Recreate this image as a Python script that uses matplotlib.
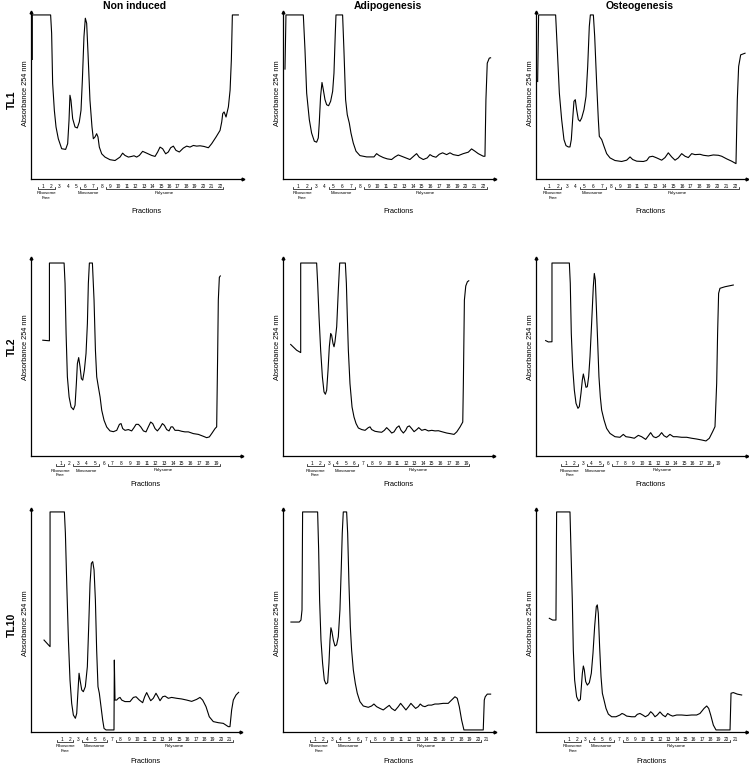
import matplotlib
matplotlib.use("Agg")
import matplotlib.pyplot as plt

plt.rcParams['font.family'] = ['Liberation Sans', 'DejaVu Sans']

conditions = ["Non induced", "Adipogenesis", "Osteogenesis"]
cell_lines = ["TL1", "TL2", "TL10"]

# traces: x in fraction units, y = A254 relative to detector saturation (1.0)
tl1_non_x = [-0.23, -0.23, 1.94, 2.06, 2.18, 2.38, 2.58, 2.85, 3.25, 3.72,
             3.96, 4.12, 4.23, 4.35, 4.55, 4.83, 5.10, 5.34, 5.54, 5.70,
             5.89, 6.05, 6.21, 6.37, 6.60, 6.84, 7.00, 7.20, 7.39, 7.55,
             7.71, 7.99, 8.38, 8.97, 9.57, 10.16, 10.47, 10.75, 11.15, 11.54,
             11.82, 12.13, 12.45, 12.84, 13.32, 13.91, 14.31, 14.62, 14.90, 15.21,
             15.57, 15.88, 16.16, 16.48, 16.79, 17.19, 17.66, 18.06, 18.45, 18.85,
             19.24, 19.64, 20.11, 20.63, 21.02, 21.54, 22.01, 22.21, 22.33, 22.49,
             22.72, 23.00, 23.20, 23.35, 23.47, 24.18]
tl1_non_y = [0.728, 1.0, 1.0, 0.888, 0.581, 0.417, 0.315, 0.243, 0.182, 0.178,
             0.213, 0.356, 0.509, 0.479, 0.366, 0.315, 0.309, 0.346, 0.417, 0.601,
             0.867, 0.980, 0.949, 0.765, 0.479, 0.315, 0.243, 0.254, 0.274, 0.254,
             0.192, 0.151, 0.131, 0.115, 0.110, 0.131, 0.155, 0.141, 0.131, 0.135,
             0.139, 0.131, 0.141, 0.166, 0.155, 0.141, 0.135, 0.162, 0.192, 0.182,
             0.151, 0.162, 0.188, 0.198, 0.172, 0.162, 0.186, 0.198, 0.192, 0.202,
             0.198, 0.200, 0.196, 0.188, 0.213, 0.254, 0.294, 0.346, 0.397, 0.407,
             0.376, 0.438, 0.540, 0.724, 1.0, 1.0]

tl1_adi_x = [-0.51, -0.40, 1.57, 1.76, 1.95, 2.25, 2.51, 2.82, 3.08, 3.27,
             3.38, 3.53, 3.69, 3.84, 4.03, 4.22, 4.44, 4.67, 4.90, 5.05,
             5.20, 5.28, 6.03, 6.18, 6.37, 6.56, 6.79, 6.98, 7.24, 7.55,
             8.00, 8.76, 9.59, 9.89, 10.19, 10.65, 11.10, 11.59, 11.97, 12.35,
             12.73, 13.11, 13.67, 14.17, 14.43, 14.73, 15.19, 15.64, 15.95, 16.25,
             16.63, 17.00, 17.38, 17.84, 18.22, 18.59, 19.16, 19.73, 20.30, 20.67,
             21.05, 21.43, 22.00, 22.19, 22.30, 22.45, 22.68, 22.83]
tl1_adi_y = [0.669, 1.0, 1.0, 0.787, 0.522, 0.360, 0.278, 0.228, 0.222, 0.248,
             0.339, 0.502, 0.587, 0.543, 0.482, 0.451, 0.445, 0.472, 0.533, 0.644,
             0.888, 1.0, 1.0, 0.787, 0.482, 0.390, 0.339, 0.278, 0.217, 0.167,
             0.140, 0.132, 0.132, 0.152, 0.140, 0.128, 0.120, 0.116, 0.132, 0.144,
             0.136, 0.128, 0.116, 0.140, 0.152, 0.130, 0.116, 0.126, 0.146, 0.136,
             0.130, 0.148, 0.157, 0.146, 0.157, 0.146, 0.140, 0.152, 0.161, 0.181,
             0.167, 0.152, 0.136, 0.136, 0.482, 0.705, 0.736, 0.738]

tl1_ost_x = [-0.28, -0.17, 1.75, 1.94, 2.17, 2.43, 2.69, 2.92, 3.18, 3.37,
             3.52, 3.67, 3.82, 3.97, 4.12, 4.31, 4.50, 4.69, 4.95, 5.18,
             5.37, 5.55, 5.67, 6.01, 6.16, 6.38, 6.57, 6.68, 6.95, 7.21,
             7.51, 7.89, 8.45, 9.20, 9.77, 10.15, 10.45, 10.90, 11.65, 12.03,
             12.33, 12.70, 13.16, 13.72, 14.10, 14.47, 14.85, 15.23, 15.60, 15.98,
             16.36, 16.73, 17.11, 17.48, 18.05, 18.43, 18.99, 19.55, 20.12, 20.50,
             21.06, 21.62, 22.11, 22.26, 22.41, 22.64, 23.13]
tl1_ost_y = [0.593, 1.0, 1.0, 0.787, 0.522, 0.360, 0.238, 0.201, 0.193, 0.193,
             0.238, 0.360, 0.472, 0.482, 0.421, 0.360, 0.350, 0.370, 0.421, 0.502,
             0.685, 0.929, 1.0, 1.0, 0.868, 0.583, 0.360, 0.258, 0.238, 0.197,
             0.152, 0.126, 0.110, 0.104, 0.112, 0.132, 0.116, 0.106, 0.104, 0.110,
             0.132, 0.136, 0.126, 0.112, 0.128, 0.157, 0.132, 0.112, 0.126, 0.152,
             0.136, 0.128, 0.152, 0.146, 0.148, 0.142, 0.138, 0.144, 0.142, 0.136,
             0.120, 0.106, 0.091, 0.482, 0.685, 0.756, 0.766]

tl2_non_x = [-1.08, -0.31, -0.31, 1.39, 1.50, 1.62, 1.77, 1.97, 2.20, 2.47,
             2.66, 2.81, 2.93, 3.08, 3.24, 3.39, 3.55, 3.74, 3.93, 4.09,
             4.20, 4.32, 4.67, 4.86, 5.02, 5.17, 5.36, 5.56, 5.75, 6.02,
             6.33, 6.71, 7.10, 7.49, 7.80, 7.99, 8.18, 8.45, 8.84, 9.22,
             9.49, 9.73, 10.00, 10.27, 10.58, 10.88, 11.15, 11.42, 11.66, 11.93,
             12.20, 12.51, 12.78, 13.01, 13.28, 13.55, 13.78, 13.97, 14.24, 14.63,
             15.02, 15.40, 15.79, 16.37, 16.95, 17.53, 17.91, 18.22, 18.49, 18.88,
             19.07, 19.19, 19.26, 19.38, 19.49]
tl2_non_y = [0.600, 0.597, 1.0, 1.0, 0.894, 0.635, 0.410, 0.306, 0.254, 0.240,
             0.263, 0.375, 0.479, 0.510, 0.462, 0.401, 0.393, 0.445, 0.531, 0.687,
             0.894, 1.0, 1.0, 0.808, 0.548, 0.410, 0.358, 0.306, 0.237, 0.185,
             0.150, 0.130, 0.126, 0.133, 0.164, 0.168, 0.142, 0.133, 0.137, 0.130,
             0.147, 0.164, 0.164, 0.151, 0.130, 0.125, 0.151, 0.176, 0.168, 0.142,
             0.130, 0.147, 0.168, 0.159, 0.137, 0.130, 0.151, 0.151, 0.133, 0.133,
             0.128, 0.125, 0.125, 0.116, 0.112, 0.102, 0.095, 0.099, 0.116, 0.142,
             0.151, 0.548, 0.808, 0.926, 0.933]

tl2_adi_x = [-1.45, -0.75, -0.28, -0.28, 1.58, 1.70, 1.86, 2.05, 2.25, 2.44,
             2.60, 2.75, 2.91, 3.06, 3.22, 3.33, 3.49, 3.61, 3.72, 3.92,
             4.11, 4.27, 4.93, 5.05, 5.16, 5.28, 5.47, 5.71, 5.94, 6.18,
             6.45, 6.84, 7.23, 7.61, 7.81, 8.00, 8.39, 8.78, 9.17, 9.48,
             9.75, 10.07, 10.34, 10.61, 10.92, 11.19, 11.43, 11.70, 11.97, 12.17,
             12.40, 12.67, 12.95, 13.26, 13.49, 13.84, 14.23, 14.62, 15.01, 15.40,
             15.79, 16.18, 16.76, 17.15, 17.61, 17.93, 18.32, 18.63, 18.70, 18.82,
             18.98, 19.17, 19.33]
tl2_adi_y = [0.578, 0.548, 0.536, 1.0, 1.0, 0.894, 0.721, 0.548, 0.410, 0.332,
             0.320, 0.341, 0.445, 0.566, 0.635, 0.626, 0.583, 0.566, 0.592, 0.670,
             0.860, 1.0, 1.0, 0.894, 0.721, 0.548, 0.375, 0.254, 0.202, 0.168,
             0.145, 0.137, 0.133, 0.147, 0.151, 0.137, 0.128, 0.125, 0.123, 0.133,
             0.147, 0.133, 0.119, 0.125, 0.147, 0.156, 0.133, 0.119, 0.133, 0.151,
             0.156, 0.142, 0.126, 0.137, 0.147, 0.133, 0.138, 0.130, 0.133, 0.130,
             0.131, 0.126, 0.119, 0.116, 0.112, 0.125, 0.151, 0.176, 0.375, 0.808,
             0.881, 0.903, 0.908]

tl2_ost_x = [-1.41, -1.09, -0.66, -0.66, 1.40, 1.51, 1.63, 1.79, 1.99, 2.19,
             2.42, 2.58, 2.78, 2.94, 3.06, 3.21, 3.37, 3.53, 3.69, 3.85,
             4.04, 4.24, 4.36, 4.48, 4.60, 4.75, 4.91, 5.07, 5.23, 5.51,
             5.82, 6.22, 6.81, 7.40, 7.80, 8.11, 8.59, 9.10, 9.58, 9.97,
             10.45, 10.76, 11.04, 11.36, 11.67, 12.03, 12.34, 12.62, 12.94, 13.33,
             13.73, 14.12, 14.72, 15.31, 15.90, 16.49, 17.09, 17.60, 18.00, 18.39,
             18.67, 18.87, 18.98, 19.10, 19.26, 19.85, 20.84]
tl2_ost_y = [0.598, 0.591, 0.592, 1.0, 1.0, 0.895, 0.636, 0.463, 0.342, 0.273,
             0.247, 0.256, 0.325, 0.394, 0.425, 0.394, 0.356, 0.359, 0.411, 0.515,
             0.687, 0.877, 0.946, 0.912, 0.774, 0.601, 0.411, 0.307, 0.238, 0.187,
             0.143, 0.117, 0.100, 0.097, 0.112, 0.100, 0.097, 0.092, 0.107, 0.100,
             0.086, 0.104, 0.121, 0.100, 0.095, 0.104, 0.121, 0.105, 0.097, 0.112,
             0.100, 0.100, 0.097, 0.097, 0.092, 0.088, 0.083, 0.078, 0.092, 0.126,
             0.152, 0.377, 0.636, 0.843, 0.869, 0.877, 0.886]

tl10_non_x = [-1.11, -0.39, -0.39, 1.32, 1.44, 1.60, 1.80, 1.99, 2.19, 2.39,
              2.63, 2.79, 2.95, 3.07, 3.19, 3.39, 3.58, 3.82, 4.06, 4.22,
              4.38, 4.54, 4.70, 4.86, 5.02, 5.17, 5.33, 5.49, 5.69, 5.89,
              6.05, 6.29, 6.77, 7.24, 7.28, 7.36, 7.56, 7.76, 7.96, 8.16,
              8.55, 9.15, 9.55, 9.87, 10.26, 10.66, 10.90, 11.14, 11.38, 11.62,
              11.93, 12.25, 12.49, 12.73, 13.05, 13.33, 13.72, 14.12, 14.72, 15.31,
              15.91, 16.51, 17.10, 17.50, 17.82, 18.22, 18.61, 19.09, 19.69, 20.28,
              20.88, 21.08, 21.28, 21.48, 21.80, 22.11]
tl10_non_y = [0.417, 0.387, 1.0, 1.0, 0.903, 0.675, 0.417, 0.235, 0.129, 0.076,
              0.061, 0.083, 0.190, 0.266, 0.235, 0.190, 0.182, 0.205, 0.296, 0.478,
              0.675, 0.766, 0.774, 0.736, 0.599, 0.372, 0.205, 0.175, 0.114, 0.053,
              0.015, 0.008, 0.008, 0.008, 0.326, 0.144, 0.144, 0.152, 0.156, 0.144,
              0.137, 0.137, 0.156, 0.159, 0.144, 0.132, 0.159, 0.178, 0.159, 0.141,
              0.152, 0.175, 0.159, 0.141, 0.159, 0.162, 0.152, 0.156, 0.152, 0.149,
              0.144, 0.138, 0.147, 0.156, 0.144, 0.114, 0.068, 0.046, 0.041, 0.038,
              0.023, 0.023, 0.099, 0.144, 0.167, 0.179]

tl10_adi_x = [-1.80, -0.83, -0.63, -0.51, -0.44, 1.31, 1.43, 1.54, 1.70, 1.89,
              2.09, 2.28, 2.48, 2.63, 2.75, 2.86, 2.98, 3.14, 3.33, 3.52,
              3.72, 3.91, 4.07, 4.18, 4.30, 4.69, 4.81, 4.96, 5.12, 5.27,
              5.47, 5.70, 5.93, 6.24, 6.63, 7.21, 7.60, 7.87, 8.18, 8.57,
              8.96, 9.35, 9.66, 9.93, 10.32, 10.71, 10.98, 11.29, 11.60, 11.91,
              12.18, 12.46, 12.73, 13.04, 13.27, 13.54, 13.82, 14.20, 14.59, 14.98,
              15.37, 15.95, 16.53, 16.92, 17.31, 17.58, 17.82, 18.09, 18.36, 20.61,
              20.73, 20.84, 21.08, 21.47]
tl10_adi_y = [0.499, 0.499, 0.508, 0.554, 1.0, 1.0, 0.827, 0.599, 0.417, 0.311,
              0.235, 0.217, 0.223, 0.311, 0.417, 0.473, 0.455, 0.417, 0.390, 0.395,
              0.432, 0.554, 0.751, 0.903, 1.0, 1.0, 0.903, 0.675, 0.478, 0.372,
              0.281, 0.220, 0.175, 0.137, 0.117, 0.111, 0.117, 0.126, 0.114, 0.106,
              0.099, 0.111, 0.120, 0.106, 0.096, 0.114, 0.129, 0.114, 0.099, 0.114,
              0.129, 0.117, 0.106, 0.114, 0.126, 0.117, 0.114, 0.121, 0.121, 0.126,
              0.126, 0.129, 0.129, 0.144, 0.159, 0.152, 0.114, 0.053, 0.008, 0.008,
              0.144, 0.159, 0.171, 0.171]

tl10_ost_x = [-1.37, -0.97, -0.57, -0.49, 1.12, 1.24, 1.40, 1.52, 1.68, 1.92,
              2.16, 2.37, 2.49, 2.61, 2.73, 2.85, 3.01, 3.21, 3.45, 3.69,
              3.89, 4.09, 4.29, 4.41, 4.53, 4.69, 4.86, 5.02, 5.22, 5.46,
              5.74, 6.14, 6.66, 7.14, 7.39, 7.63, 7.95, 8.55, 8.95, 9.23,
              9.55, 9.88, 10.20, 10.56, 10.84, 11.08, 11.36, 11.64, 11.96, 12.29,
              12.61, 12.89, 13.17, 13.49, 13.97, 14.57, 15.18, 15.78, 16.38, 16.78,
              17.27, 17.59, 17.83, 18.07, 18.39, 18.71, 19.19, 20.40, 20.52, 20.80,
              21.28, 21.80]
tl10_ost_y = [0.516, 0.508, 0.508, 1.0, 1.0, 0.827, 0.599, 0.372, 0.235, 0.159,
              0.140, 0.147, 0.205, 0.266, 0.299, 0.281, 0.228, 0.212, 0.223, 0.266,
              0.357, 0.478, 0.569, 0.577, 0.539, 0.387, 0.250, 0.175, 0.144, 0.106,
              0.080, 0.068, 0.068, 0.076, 0.083, 0.079, 0.071, 0.068, 0.068, 0.079,
              0.083, 0.076, 0.068, 0.076, 0.091, 0.083, 0.068, 0.076, 0.090, 0.076,
              0.068, 0.083, 0.076, 0.071, 0.076, 0.076, 0.074, 0.076, 0.076, 0.083,
              0.106, 0.117, 0.106, 0.076, 0.030, 0.008, 0.008, 0.008, 0.175, 0.178,
              0.171, 0.167]

traces = [[(tl1_non_x, tl1_non_y), (tl1_adi_x, tl1_adi_y), (tl1_ost_x, tl1_ost_y)],
          [(tl2_non_x, tl2_non_y), (tl2_adi_x, tl2_adi_y), (tl2_ost_x, tl2_ost_y)],
          [(tl10_non_x, tl10_non_y), (tl10_adi_x, tl10_adi_y), (tl10_ost_x, tl10_ost_y)]]

# number of fractions and (first, last) fraction of each pool
n_fractions = [[22, 22, 22], [19, 19, 19], [21, 21, 21]]
free_pool = [[(1, 2), (1, 2), (1, 2)], [(1, 1), (1, 2), (1, 2)], [(1, 2), (1, 2), (1, 2)]]
mono_pool = [[(6, 7), (5, 7), (5, 7)], [(3, 5), (4, 6), (4, 5)], [(4, 6), (4, 6), (4, 6)]]
poly_pool = [[(9, 22), (9, 22), (9, 22)], [(7, 19), (8, 19), (7, 18)], [(8, 21), (8, 20), (8, 20)]]
pool_names = ["Ribosome\nFree", "Monosome", "Polysome"]

# layout (pixels) and axis ranges
W, H = 749, 766
lefts = [[30.7, 282.7, 535.7], [30.7, 282.7, 535.7], [30.7, 282.7, 535.7]]
rights = [[243, 495, 746.7], [241.7, 494.3, 746.7], [240.7, 495, 747.3]]
tops = [12, 258, 509.3]
bottoms = [178.5, 456, 731.7]
xlims = [[(-0.42, 24.73), (-0.77, 23.33), (-0.50, 23.32)],
         [(-2.48, 21.97), (-2.38, 22.31), (-2.59, 22.43)],
         [(-2.70, 22.36), (-2.76, 21.98), (-3.01, 22.48)]]
ytops = [1.018, 1.026, 1.012]
ylab_y = [0.51, 0.55, 0.49]
frac_off = [33, 28.5, 30]

fig = plt.figure(figsize=(W / 100, H / 100), dpi=100)

for r in range(3):
    for c in range(3):
        l, rr = lefts[r][c], rights[r][c]
        t, b = tops[r], bottoms[r]
        ax = fig.add_axes([l / W, 1 - b / H, (rr - l) / W, (b - t) / H])
        hpx = b - t
        x, y = traces[r][c]
        ax.plot(x, y, color='black', lw=0.8, solid_joinstyle='round')
        ax.set_xlim(*xlims[r][c])
        ax.set_ylim(0, ytops[r])
        ax.set_xticks([])
        ax.set_yticks([])
        for s in ['top', 'right']:
            ax.spines[s].set_visible(False)
        for s in ['left', 'bottom']:
            ax.spines[s].set_linewidth(0.9)
        ax.plot([0], [1], marker='^', ms=2, color='black', transform=ax.transAxes, clip_on=False)
        ax.plot([1], [0], marker='>', ms=2, color='black', transform=ax.transAxes, clip_on=False)
        ax.set_ylabel("Absorbance 254 nm", fontsize=5.3)
        ax.yaxis.set_label_coords(-2.0 / (rr - l), ylab_y[r])

        tr = ax.get_xaxis_transform()
        for k in range(1, n_fractions[r][c] + 1):
            ax.text(k, -7.5 / hpx, str(k), transform=tr, ha='center', va='center',
                    fontsize=3.4, clip_on=False)
        pools = [free_pool[r][c], mono_pool[r][c], poly_pool[r][c]]
        for (a, e), name in zip(pools, pool_names):
            x0, x1 = a - 0.55, e + 0.4
            ax.plot([x0, x0, x1, x1], [-8.3 / hpx, -10.3 / hpx, -10.3 / hpx, -8.3 / hpx],
                    transform=tr, color='black', lw=0.5, clip_on=False)
            ax.text((x0 + x1) / 2, -12.5 / hpx, name, transform=tr, ha='center', va='top',
                    fontsize=3.2, linespacing=1.2, clip_on=False)
        ax.text(0.545, -frac_off[r] / hpx, "Fractions", transform=ax.transAxes,
                ha='center', va='center', fontsize=5.3)

title_x = [135, 388, 640]
for c in range(3):
    fig.text(title_x[c] / W, 1 - 6 / H, conditions[c], ha='center', va='center',
             fontsize=7.5, fontweight='bold')

row_y = [100, 347, 625]
for r in range(3):
    fig.text(12 / W, 1 - row_y[r] / H, cell_lines[r], ha='center', va='center',
             rotation=90, fontsize=7.5, fontweight='bold')

fig.savefig("out.png", dpi=100)
